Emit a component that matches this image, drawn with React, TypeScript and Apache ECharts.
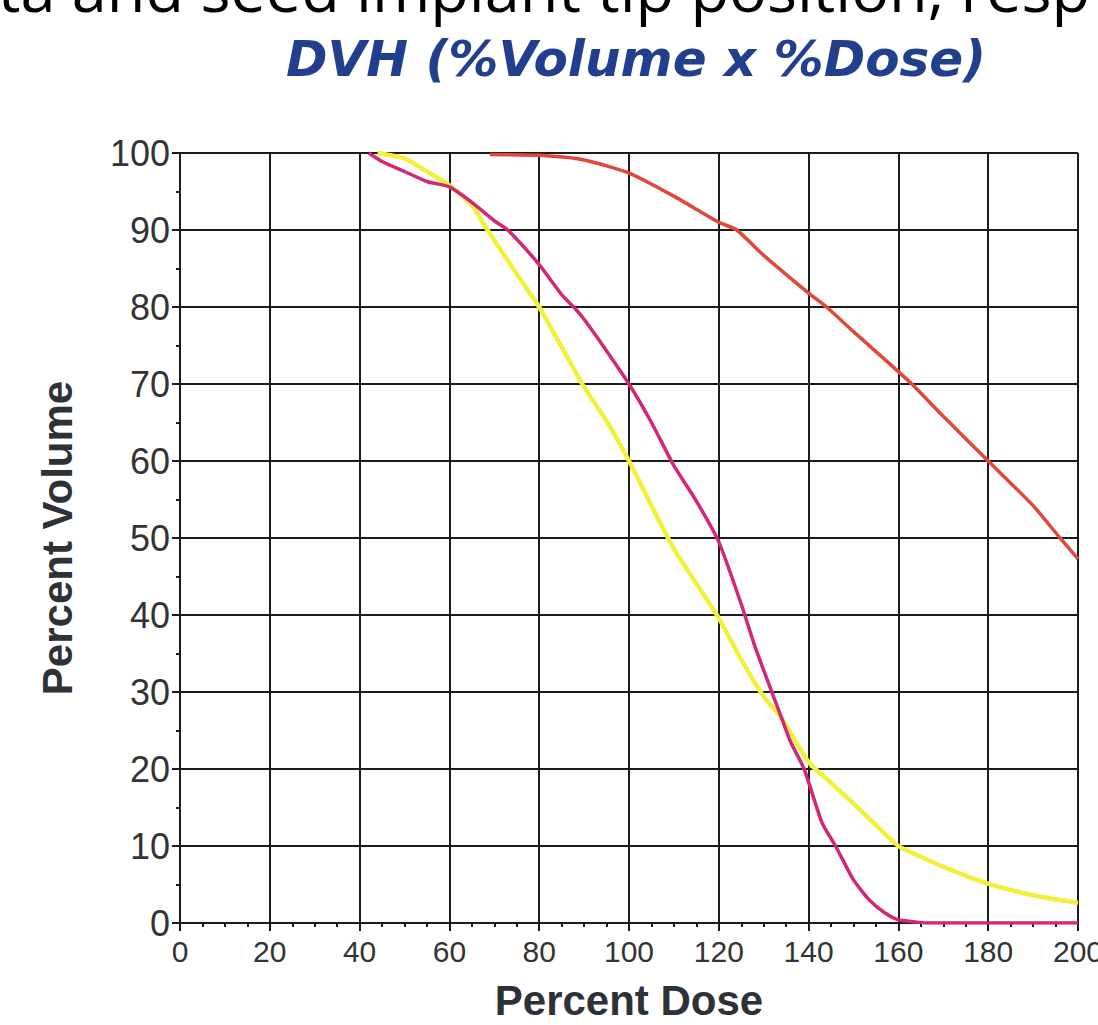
import React, { useEffect, useRef } from "react";
import * as echarts from "echarts";

const headerText = "ta and seed implant tip position, resp";
const chartTitle = "DVH (%Volume x %Dose)";
const xAxisName = "Percent Dose";
const yAxisName = "Percent Volume";

const redDose = [69, 80, 90, 100, 110, 120, 124, 130, 140, 144, 150, 160, 163, 170, 180, 190, 196, 200];
const redVolume = [99.8, 99.7, 99.1, 97.4, 94.4, 91, 90, 86.7, 81.8, 80, 76.8, 71.6, 70, 65.8, 60, 54.2, 50, 47.3];

const pinkDose = [42, 45, 50, 55, 60, 65, 70, 73, 80, 85, 88, 90, 95, 100, 105, 110, 115, 120, 125, 128, 132, 134, 136, 139, 143, 146, 150, 153.5, 157, 160, 163, 166, 200];
const pinkVolume = [100, 98.9, 97.6, 96.3, 95.6, 93.6, 91.2, 90, 85.5, 81.6, 79.8, 78.4, 74.3, 70, 65, 59.4, 54.8, 49.5, 41.4, 36, 29.7, 26.6, 23.5, 20, 13, 10, 5.6, 3, 1.3, 0.4, 0.2, 0, 0];

const yellowDose = [44, 50, 55, 60, 65, 68.5, 75, 80, 85, 90, 95, 100, 105, 110, 115, 120, 125, 130, 134, 140, 145, 150, 155, 160, 165, 170, 180, 190, 200];
const yellowVolume = [100, 99.3, 97.6, 95.8, 93.2, 90, 84.3, 80, 74.8, 69.6, 65.2, 60, 54.2, 48.6, 44.1, 39.6, 34.2, 29.4, 26.6, 20.9, 18.2, 15.5, 12.7, 10, 8.6, 7.3, 5.1, 3.6, 2.6];

const pairs = (xs: number[], ys: number[]) => xs.map((x, i) => [x, ys[i]]);

export default function App() {
  const ref = useRef<HTMLDivElement>(null);
  useEffect(() => {
    if (!ref.current) return;
    const chart = echarts.init(ref.current, undefined, { renderer: "svg" });
    const dark = "#1c1c1c";
    chart.setOption({
      animation: false,
      backgroundColor: "#ffffff",
      title: {
        text: chartTitle,
        left: 281,
        top: 29,
        textStyle: {
          fontFamily: "DejaVu Sans",
          fontWeight: "bold",
          fontStyle: "italic",
          fontSize: 50,
          color: "#213f8c",
        },
      },
      graphic: [
        {
          type: "text",
          left: -2,
          top: -44,
          style: {
            text: headerText,
            fontFamily: "Open Sans",
            fontSize: 63,
            fill: "#000000",
          },
        },
      ],
      grid: { left: 180, right: 20, top: 153, bottom: 102, outerBoundsMode: "none" },
      xAxis: {
        type: "value",
        min: 0,
        max: 200,
        interval: 20,
        name: xAxisName,
        nameLocation: "middle",
        nameGap: 56,
        nameTextStyle: { fontFamily: "Liberation Sans", fontWeight: "bold", fontSize: 42, color: "#2e3136" },
        axisLine: { show: true, lineStyle: { color: dark, width: 2 } },
        axisTick: { show: true, length: 8, lineStyle: { color: dark, width: 2 } },
        minorTick: { show: true, splitNumber: 4, length: 4, lineStyle: { color: dark, width: 2 } },
        splitLine: { show: true, lineStyle: { color: dark, width: 2 } },
        axisLabel: { fontFamily: "Liberation Sans", fontSize: 30, color: "#333333", margin: 13 },
      },
      yAxis: {
        type: "value",
        min: 0,
        max: 100,
        interval: 10,
        name: yAxisName,
        nameLocation: "middle",
        nameGap: 102,
        nameTextStyle: { fontFamily: "Liberation Sans", fontWeight: "bold", fontSize: 42, color: "#2e3136" },
        axisLine: { show: true, lineStyle: { color: dark, width: 2 } },
        axisTick: { show: true, length: 8, lineStyle: { color: dark, width: 2 } },
        minorTick: { show: true, splitNumber: 2, length: 4, lineStyle: { color: dark, width: 2 } },
        splitLine: { show: true, lineStyle: { color: dark, width: 2 } },
        axisLabel: { fontFamily: "Liberation Sans", fontSize: 36, color: "#333333", margin: 10 },
      },
      series: [
        {
          type: "line",
          data: pairs(yellowDose, yellowVolume),
          showSymbol: false,
          smooth: 0.2,
          lineStyle: { color: "#f3f03c", width: 4.5 },
        },
        {
          type: "line",
          data: pairs(pinkDose, pinkVolume),
          showSymbol: false,
          smooth: 0.2,
          lineStyle: { color: "#d42676", width: 3.5 },
        },
        {
          type: "line",
          data: pairs(redDose, redVolume),
          showSymbol: false,
          smooth: 0.2,
          lineStyle: { color: "#e2473b", width: 3.5 },
        },
      ],
    });
    return () => chart.dispose();
  }, []);
  return (
    <div
      ref={ref}
      style={{ position: "fixed", left: 0, top: 0, width: 1098, height: 1025, background: "#fff" }}
    />
  );
}
